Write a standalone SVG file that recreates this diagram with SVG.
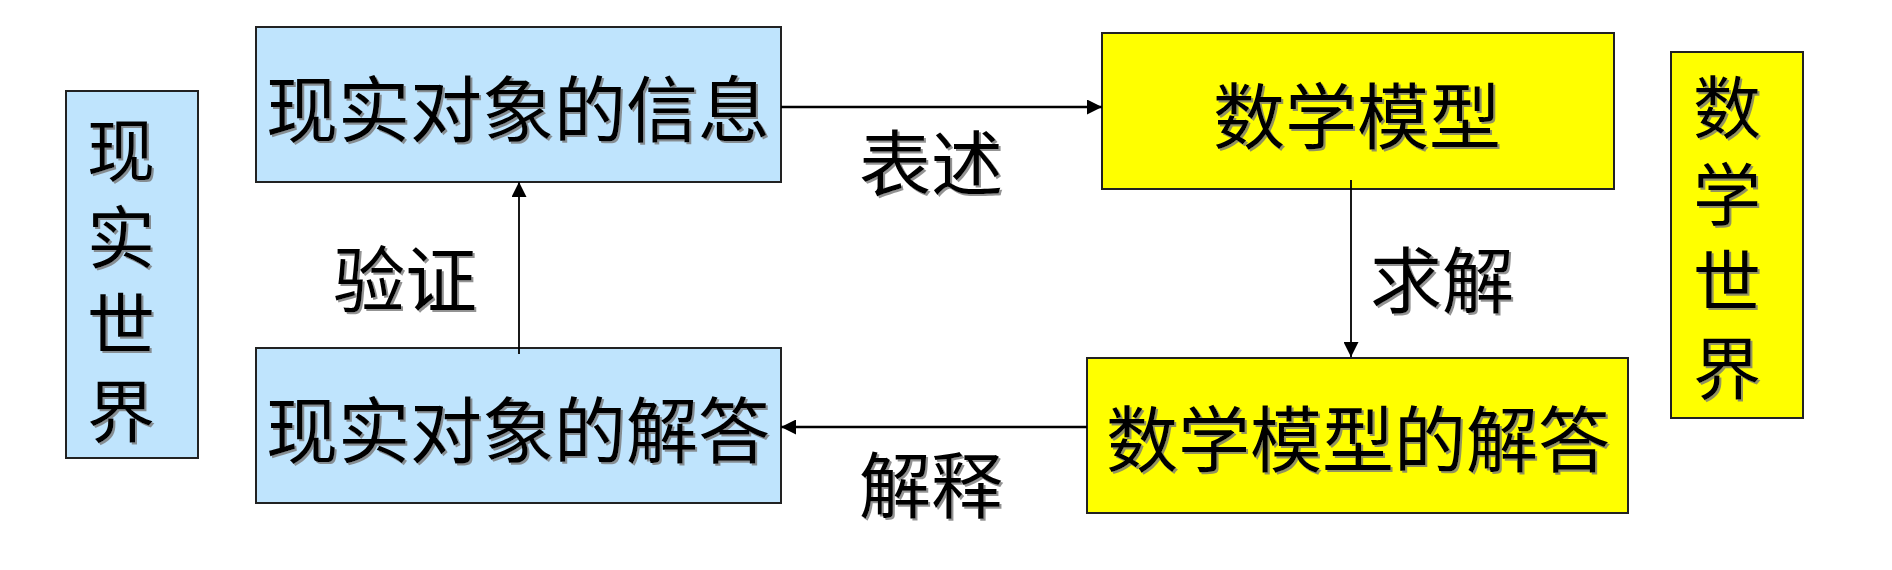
<svg xmlns="http://www.w3.org/2000/svg" width="1892" height="570" viewBox="0 0 1892 570">
<style>
  .blue { fill: #BFE4FD; stroke: #222; stroke-width: 2; }
  .yellow { fill: #FFFF00; stroke: #222; stroke-width: 2; }
  text { font-family: "Noto Sans CJK SC", "Noto Sans CJK JP", sans-serif; fill: #000; filter: url(#sh); }
  .big { font-size: 72px; text-anchor: middle; }
  .side { font-size: 68px; writing-mode: vertical-rl; text-anchor: start; letter-spacing: 19px; }
  .conn { stroke: #000; fill: none; }
</style>
<defs>
  <filter id="sh" x="-5%" y="-5%" width="115%" height="115%">
    <feDropShadow dx="2" dy="2" stdDeviation="0.6" flood-color="#777" flood-opacity="0.8"/>
  </filter>
  <marker id="ah" viewBox="0 0 10 10" refX="10" refY="5" markerWidth="16" markerHeight="15" markerUnits="userSpaceOnUse" orient="auto">
    <path d="M0,0 L10,5 L0,10 Z" fill="#000"/>
  </marker>
</defs>
<rect width="1892" height="570" fill="#fff"/>

<g id="real-world">
  <rect class="blue" x="66" y="91" width="132" height="367"/>
  <text class="side" x="121" y="116">现实世界</text>
</g>

<g id="real-info">
  <rect class="blue" x="256" y="27" width="525" height="155"/>
  <text class="big" x="518" y="136">现实对象的信息</text>
</g>

<g id="math-model">
  <rect class="yellow" x="1102" y="33" width="512" height="156"/>
  <text class="big" x="1357" y="143">数学模型</text>
</g>

<g id="math-world">
  <rect class="yellow" x="1671" y="52" width="132" height="366"/>
  <text class="side" x="1727" y="73">数学世界</text>
</g>

<g id="real-answer">
  <rect class="blue" x="256" y="348" width="525" height="155"/>
  <text class="big" x="518" y="457">现实对象的解答</text>
</g>

<g id="math-answer">
  <rect class="yellow" x="1087" y="358" width="541" height="155"/>
  <text class="big" x="1358" y="466">数学模型的解答</text>
</g>

<g id="connectors">
  <line class="conn" x1="781" y1="107" x2="1102" y2="107" stroke-width="2.5" marker-end="url(#ah)"/>
  <line class="conn" x1="1351" y1="180" x2="1351" y2="357" stroke-width="1.8" marker-end="url(#ah)"/>
  <line class="conn" x1="1087" y1="427" x2="781" y2="427" stroke-width="2.5" marker-end="url(#ah)"/>
  <line class="conn" x1="519" y1="354" x2="519" y2="182" stroke-width="1.8" marker-end="url(#ah)"/>
  <text class="big" x="931" y="190">表述</text>
  <text class="big" x="1442" y="307">求解</text>
  <text class="big" x="931" y="512">解释</text>
  <text class="big" x="405" y="306">验证</text>
</g>
</svg>
